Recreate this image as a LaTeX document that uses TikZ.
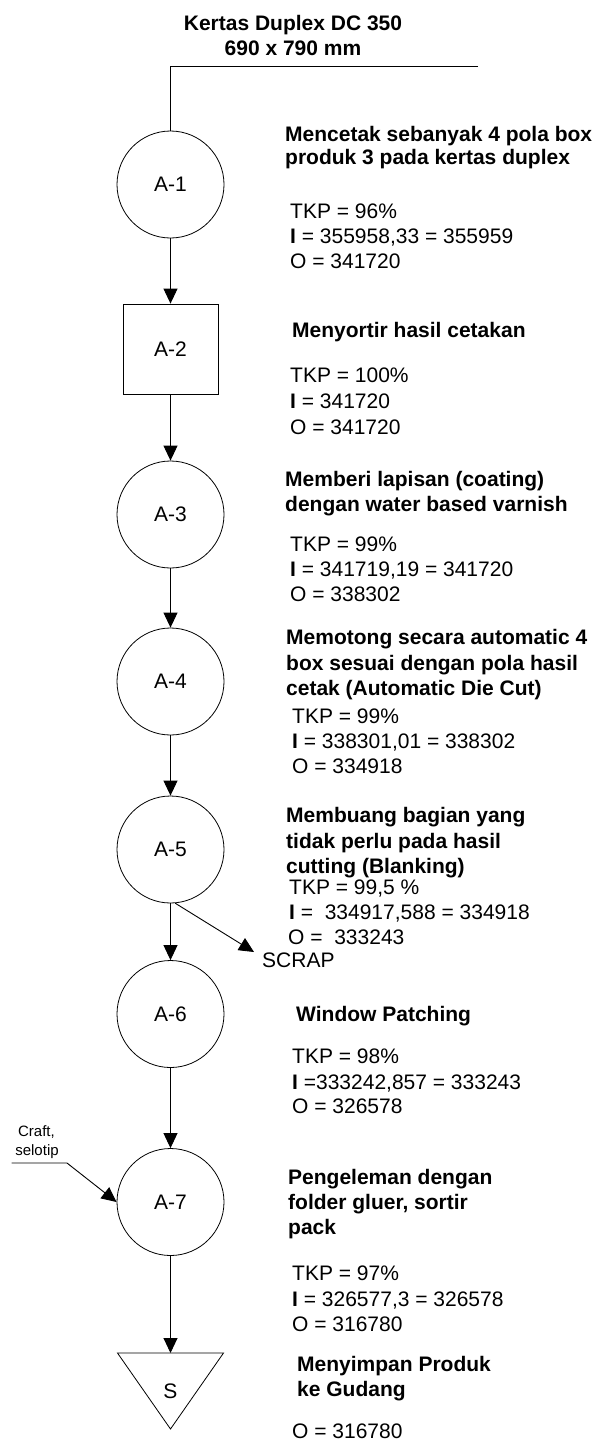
\documentclass[tikz,border=0pt]{standalone}
\usepackage{fontspec}
\setmainfont{Liberation Sans}
\usetikzlibrary{arrows.meta}
\begin{document}
\begin{tikzpicture}[x=1pt,y=-1pt,
  conn/.style={line width=0.9pt,draw=black},
  arr/.style={conn,-{Triangle[length=15pt,width=14pt]}},
  proc/.style={circle,draw=black,line width=0.8pt,minimum size=107pt,inner sep=0pt,font=\fontsize{21}{25}\selectfont},
  insp/.style={rectangle,draw=black,line width=0.8pt,minimum width=95pt,minimum height=90pt,inner sep=0pt,font=\fontsize{21}{25}\selectfont},
  desc/.style={font=\bfseries\fontsize{21}{25}\selectfont,anchor=base west,inner sep=0pt},
  val/.style={font=\fontsize{21}{25}\selectfont,anchor=base west,inner sep=0pt},
  ttl/.style={font=\bfseries\fontsize{21}{25}\selectfont,anchor=base,inner sep=0pt},
  small/.style={font=\fontsize{15}{18}\selectfont,anchor=base,inner sep=0pt}]
\path[use as bounding box] (0,0) rectangle (600,1441);

% title
\node[ttl] (t1) at (293,30) {Kertas Duplex DC 350};
\node[ttl] (t2) at (293,55) {690 x 790 mm};
\coordinate (topL) at (170.5,66);
\coordinate (topR) at (478,66);

% process symbols
\node[proc] (A1) at (170.5,184.5) {A-1};
\node[insp] (A2) at (170.5,349) {A-2};
\node[proc] (A3) at (170.5,514.5) {A-3};
\node[proc] (A4) at (170.5,681.5) {A-4};
\node[proc] (A5) at (170.5,849.5) {A-5};
\node[proc] (A6) at (170.5,1014) {A-6};
\node[proc] (A7) at (170.5,1202) {A-7};
\coordinate (Stop) at (170.5,1353);
\draw[line width=0.8pt] (117.5,1353) -- (223.5,1353) -- (170.5,1429) -- cycle;
\node[font=\fontsize{21}{25}\selectfont,inner sep=0pt] (S) at (170.5,1391) {S};

% connectors
\draw[conn] (topR) -- (topL) -- (A1.north);
\draw[arr] (A1) -- (A2);
\draw[arr] (A2) -- (A3);
\draw[arr] (A3) -- (A4);
\draw[arr] (A4) -- (A5);
\draw[arr] (A5) -- (A6);
\draw[arr] (A6) -- (A7);
\draw[arr] (A7) -- (Stop);

% scrap
\node[val] (scrap) at (262,967) {SCRAP};
\coordinate (scrapTip) at (254,952);
\draw[arr] (A5.-85) -- (scrapTip);

% craft, selotip
\node[small] (craft1) at (36.5,1136) {Craft,};
\node[small] (craft2) at (37,1155) {selotip};
\coordinate (craftS) at (11.5,1163);
\coordinate (craftK) at (67,1163);
\draw[arr] (craftS) -- (craftK) -- (A7.west);

% A-1
\node[desc] (d1a) at (285,141) {Mencetak sebanyak 4 pola box};
\node[desc] (d1b) at (285,164) {produk 3 pada kertas duplex};
\node[val] (k1) at (290,218) {TKP = 96\%};
\node[val] (i1) at (290,243) {\textbf{I} = 355958,33 = 355959};
\node[val] (o1) at (290,268) {O = 341720};

% A-2
\node[desc] (d2a) at (292,337) {Menyortir hasil cetakan};
\node[val] (k2) at (290,382) {TKP = 100\%};
\node[val] (i2) at (290,408) {\textbf{I} = 341720};
\node[val] (o2) at (290,434) {O = 341720};

% A-3
\node[desc] (d3a) at (285,486) {Memberi lapisan (coating)};
\node[desc] (d3b) at (285,511) {dengan water based varnish};
\node[val] (k3) at (290,551) {TKP = 99\%};
\node[val] (i3) at (290,576) {\textbf{I} = 341719,19 = 341720};
\node[val] (o3) at (290,601) {O = 338302};

% A-4
\node[desc] (d4a) at (286,644) {Memotong secara automatic 4};
\node[desc] (d4b) at (286,670) {box sesuai dengan pola hasil};
\node[desc] (d4c) at (286,695) {cetak (Automatic Die Cut)};
\node[val] (k4) at (292,723) {TKP = 99\%};
\node[val] (i4) at (292,748) {\textbf{I} = 338301,01 = 338302};
\node[val] (o4) at (292,773) {O = 334918};

% A-5
\node[desc] (d5a) at (286,822) {Membuang bagian yang};
\node[desc] (d5b) at (286,848) {tidak perlu pada hasil};
\node[desc] (d5c) at (286,873) {cutting (Blanking)};
\node[val] (k5) at (289,894) {TKP = 99,5 \%};
\node[val] (i5) at (289,919) {\textbf{I} =\ \ 334917,588 = 334918};
\node[val] (o5) at (288,944) {O =\ \ 333243};

% A-6
\node[desc] (d6a) at (296,1021) {Window Patching};
\node[val] (k6) at (292,1063) {TKP = 98\%};
\node[val] (i6) at (292,1089) {\textbf{I} =333242,857 = 333243};
\node[val] (o6) at (292,1113) {O = 326578};

% A-7
\node[desc] (d7a) at (288,1184) {Pengeleman dengan};
\node[desc] (d7b) at (288,1209) {folder gluer, sortir};
\node[desc] (d7c) at (288,1234) {pack};
\node[val] (k7) at (292,1280) {TKP = 97\%};
\node[val] (i7) at (292,1306) {\textbf{I} = 326577,3 = 326578};
\node[val] (o7) at (292,1331) {O = 316780};

% S
\node[desc] (d8a) at (297,1371) {Menyimpan Produk};
\node[desc] (d8b) at (297,1396) {ke Gudang};
\node[val] (o8) at (292,1438) {O = 316780};
\end{tikzpicture}
\end{document}
